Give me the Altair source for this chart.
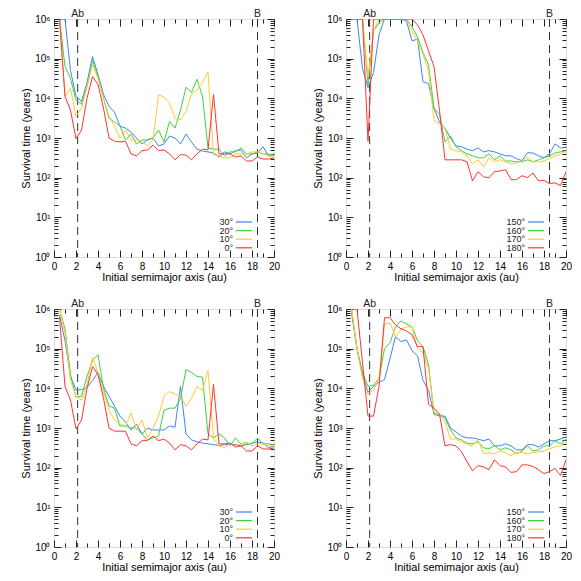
import math
import altair as alt
import pandas as pd

# Initial semimajor axis (au)
A_AU = [0.5, 1.0, 1.5, 2.0, 2.5, 3.0, 3.5, 4.0, 4.5, 5.0,
        5.5, 6.0, 6.5, 7.0, 7.5, 8.0, 8.5, 9.0, 9.5, 10.0,
        10.5, 11.0, 11.5, 12.0, 12.5, 13.0, 13.5, 14.0, 14.5, 15.0,
        15.5, 16.0, 16.5, 17.0, 17.5, 18.0, 18.5, 19.0, 19.5, 20.0]

# log10 survival time (years)
# top-left panel (prograde)
P1_30 = [6.0, 6.0, 4.7, 4.05, 3.92, 4.4, 5.05, 4.6, 4.1, 3.8,
         3.65, 3.3, 3.25, 3.15, 3.0, 2.85, 2.95, 3.0, 2.8, 2.85,
         3.05, 3.0, 2.85, 3.1, 2.9, 2.72, 2.67, 2.65, 2.62, 2.52,
         2.65, 2.6, 2.68, 2.7, 2.5, 2.6, 2.62, 2.78, 2.55, 2.6]
P1_20 = [6.0, 4.8, 4.5, 3.95, 3.85, 4.3, 4.95, 4.55, 4.0, 3.5,
         3.4, 3.3, 2.95, 3.1, 2.85, 2.95, 2.95, 3.0, 3.2, 2.9,
         3.42, 3.25, 3.7, 4.28, 4.15, 4.48, 4.05, 2.75, 2.72, 2.72,
         2.55, 2.65, 2.65, 2.75, 2.6, 2.6, 2.65, 2.6, 2.6, 2.55]
P1_10 = [6.0, 4.05, 4.25, 3.55, 3.75, 4.3, 4.85, 4.5, 4.0, 3.55,
         3.3, 3.0, 3.2, 2.95, 2.95, 2.92, 2.8, 2.95, 4.09, 4.03,
         3.88, 3.5, 3.46, 3.67, 4.11, 4.21, 4.4, 4.66, 2.58, 2.55,
         2.5, 2.5, 2.6, 2.6, 2.6, 2.65, 2.65, 2.6, 2.55, 2.5]
P1_0 = [6.0, 4.05, 3.7, 2.98, 3.2, 4.0, 4.55, 4.35, 3.75, 3.0,
        2.92, 2.9, 2.92, 2.6, 2.55, 2.68, 2.7, 2.82, 2.68, 2.7,
        2.6, 2.45, 2.58, 2.57, 2.45, 2.6, 2.72, 2.7, 4.1, 2.6,
        2.6, 2.6, 2.52, 2.55, 2.42, 2.42, 2.52, 2.47, 2.47, 2.5]

# top-right panel (retrograde)
P2_150 = [6.0, 6.0, 4.75, 4.27, 4.65, 5.6, 6.0, 6.0, 6.0, 6.0,
          5.95, 5.45, 5.49, 4.42, 4.37, 3.75, 3.4, 3.25, 3.0, 2.8,
          2.78, 2.72, 2.68, 2.75, 2.65, 2.68, 2.65, 2.6, 2.55, 2.55,
          2.48, 2.43, 2.63, 2.62, 2.55, 2.5, 2.6, 2.85, 2.75, 2.77]
P2_160 = [6.0, 6.0, 6.0, 4.35, 5.7, 5.9, 6.0, 6.0, 6.0, 6.0,
          6.0, 5.8, 5.55, 5.15, 4.85, 3.75, 3.6, 2.9, 3.05, 2.78,
          2.68, 2.6, 2.55, 2.5, 2.5, 2.6, 2.45, 2.55, 2.42, 2.42,
          2.4, 2.4, 2.45, 2.4, 2.45, 2.5, 2.55, 2.62, 2.65, 2.68]
P2_170 = [6.0, 6.0, 6.0, 4.55, 5.7, 6.0, 6.0, 6.0, 6.0, 6.0,
          6.0, 5.7, 5.45, 5.1, 4.7, 3.45, 3.35, 3.25, 2.72, 2.68,
          2.65, 2.55, 2.35, 2.45, 2.27, 2.5, 2.4, 2.45, 2.4, 2.35,
          2.37, 2.42, 2.52, 2.4, 2.4, 2.42, 2.48, 2.55, 2.6, 2.65]
P2_180 = [6.0, 6.0, 6.0, 2.92, 6.0, 6.0, 6.0, 6.0, 6.0, 6.0,
          6.0, 6.0, 5.85, 5.6, 5.2, 4.8, 3.7, 2.45, 2.45, 2.45,
          2.45, 2.4, 1.92, 2.15, 2.02, 2.0, 2.15, 2.17, 2.2, 1.95,
          1.95, 2.05, 2.0, 2.12, 1.92, 1.93, 1.85, 1.87, 1.8, 2.15]

# bottom-left panel (prograde)
P3_30 = [5.85, 5.2, 4.3, 3.95, 3.97, 4.02, 4.2, 4.4, 4.05, 3.8,
         3.55, 3.3, 3.15, 2.95, 3.1, 2.85, 3.0, 2.95, 2.95, 2.95,
         3.05, 3.02, 4.05, 2.85, 2.7, 2.65, 2.62, 2.6, 2.58, 2.56,
         2.58, 2.6, 2.58, 2.55, 2.58, 2.62, 2.65, 2.62, 2.5, 2.55]
P3_20 = [6.0, 5.5, 4.35, 3.78, 3.8, 4.3, 4.7, 4.85, 4.0, 3.55,
         3.5, 3.05, 3.05, 3.0, 3.0, 2.85, 2.7, 2.75, 2.8, 3.45,
         3.5, 3.5, 3.75, 4.47, 4.4, 4.3, 4.28, 2.85, 2.75, 2.85,
         2.75, 2.55, 2.75, 2.6, 2.6, 2.6, 2.75, 2.6, 2.6, 2.58]
P3_10 = [6.0, 5.4, 4.2, 3.8, 3.7, 4.1, 4.78, 4.4, 3.9, 3.45,
         3.2, 3.1, 3.05, 3.38, 2.95, 3.2, 2.75, 3.0, 3.3, 3.8,
         3.92, 3.85, 3.8, 3.55, 3.75, 4.05, 3.95, 4.45, 2.75, 2.55,
         2.5, 2.6, 2.55, 2.6, 2.65, 2.55, 2.6, 2.6, 2.55, 2.55]
P3_0 = [5.8, 4.05, 3.7, 2.98, 3.2, 4.0, 4.55, 4.35, 3.75, 3.0,
        2.92, 2.92, 2.92, 2.6, 2.55, 2.68, 2.68, 2.8, 2.68, 2.72,
        2.62, 2.45, 2.58, 2.55, 2.45, 2.6, 2.72, 2.7, 4.1, 2.6,
        2.6, 2.62, 2.52, 2.55, 2.42, 2.42, 2.55, 2.47, 2.47, 2.5]

# bottom-right panel (retrograde)
P4_150 = [5.9, 5.0, 4.35, 3.9, 4.05, 4.15, 4.22, 4.75, 5.3, 5.18,
          5.22, 4.95, 4.82, 4.2, 3.95, 3.35, 3.3, 3.3, 3.0, 2.9,
          2.8, 2.75, 2.75, 2.72, 2.68, 2.72, 2.55, 2.55, 2.6, 2.55,
          2.45, 2.45, 2.58, 2.58, 2.52, 2.6, 2.68, 2.68, 2.72, 2.78]
P4_160 = [6.0, 5.0, 4.4, 4.05, 4.08, 4.25, 5.0, 5.15, 5.55, 5.7,
          5.62, 5.55, 5.2, 5.05, 4.6, 3.35, 3.35, 3.25, 2.95, 2.75,
          2.7, 2.62, 2.6, 2.65, 2.5, 2.48, 2.55, 2.45, 2.5, 2.45,
          2.35, 2.42, 2.55, 2.42, 2.45, 2.55, 2.55, 2.68, 2.6, 2.72]
P4_170 = [6.0, 5.0, 4.25, 3.85, 3.95, 4.25, 5.62, 5.65, 5.3, 5.5,
          5.55, 5.55, 5.0, 4.9, 4.5, 3.4, 3.35, 3.15, 2.72, 2.72,
          2.65, 2.6, 2.55, 2.7, 2.35, 2.38, 2.35, 2.42, 2.38, 2.3,
          2.38, 2.38, 2.35, 2.38, 2.4, 2.42, 2.48, 2.52, 2.55, 2.65]
P4_180 = [6.0, 6.0, 4.65, 3.3, 3.3, 4.05, 5.78, 5.78, 5.6, 5.5,
          5.45, 5.35, 5.05, 5.05, 3.6, 3.5, 3.35, 2.55, 2.58, 2.55,
          2.4, 2.15, 1.92, 2.05, 2.02, 1.95, 2.2, 2.05, 2.02, 1.88,
          1.9, 2.07, 2.07, 2.03, 1.95, 1.85, 1.9, 1.98, 1.8, 2.2]

PRO_NAMES = ["30°", "20°", "10°", "0°"]
RETRO_NAMES = ["150°", "160°", "170°", "180°"]
COLORS = ["#3d86f2", "#3ed43e", "#ffc933", "#ff3333"]

RES_A = [2.15, 18.5]
RES_LAB = ["Ab", "B"]

X_MAJOR = [0, 2, 4, 6, 8, 10, 12, 14, 16, 18, 20]
X_MINOR = [1, 3, 5, 7, 9, 11, 13, 15, 17, 19]
Y_MAJOR = [0, 1, 2, 3, 4, 5, 6]
Y_MINOR = [k + math.log10(m) for k in range(6) for m in range(2, 10)]

XTITLE = "Initial semimajor axis (au)"
YTITLE = "Survival time (years)"

W, H = 220, 238
FONT = "Liberation Sans"
INK = "#222222"

XS = alt.Scale(domain=[0, 20], nice=False, zero=False)
YS = alt.Scale(domain=[0, 6], nice=False, zero=False)

SUP = "['\u2070','\u00b9','\u00b2','\u00b3','\u2074','\u2075','\u2076'][datum.value]"


def tick_layer(base, xorient, yorient, xvals, yvals, size):
    return base.mark_point(opacity=0, size=1).encode(
        x=alt.X("a:Q", scale=XS, axis=alt.Axis(
            orient=xorient, offset=-H, values=xvals, labels=False, domain=False,
            grid=False, ticks=True, tickSize=size, tickColor=INK, title=None)),
        y=alt.Y("lt:Q", scale=YS, axis=alt.Axis(
            orient=yorient, offset=-W, values=yvals, labels=False, domain=False,
            grid=False, ticks=True, tickSize=size, tickColor=INK, title=None)),
    )


def make_panel(series, names):
    rows = []
    for name, vals in zip(names, series):
        for a, v in zip(A_AU, vals):
            rows.append({"a": a, "lt": v, "inc": name})
    df = pd.DataFrame(rows)
    base = alt.Chart(df)

    res_df = pd.DataFrame({"a": RES_A, "lab": RES_LAB})
    res_lines = alt.Chart(res_df).mark_rule(
        strokeDash=[8, 5], strokeWidth=1, color="#333333"
    ).encode(x=alt.X("a:Q", scale=XS, axis=None))
    res_text = alt.Chart(res_df).mark_text(
        baseline="alphabetic", align="center", fontSize=10.5, font=FONT, color=INK
    ).encode(x=alt.X("a:Q", scale=XS, axis=None), y=alt.value(-2), text="lab:N")

    lines = base.mark_line(strokeWidth=1, clip=True).encode(
        x=alt.X("a:Q", scale=XS, axis=alt.Axis(
            orient="bottom", title=XTITLE, values=X_MAJOR, ticks=False, domain=False,
            grid=False, labelPadding=4, titlePadding=0, labelFlush=False,
            titleFontWeight="normal")),
        y=alt.Y("lt:Q", scale=YS, axis=alt.Axis(
            orient="left", title=YTITLE, values=Y_MAJOR, labelExpr="'10' + " + SUP,
            ticks=False, domain=False, grid=False, labelPadding=4, titlePadding=3,
            labelFlush=False, titleFontWeight="normal")),
        color=alt.Color("inc:N", scale=alt.Scale(domain=names, range=COLORS), legend=None),
    )

    layers = [res_lines, res_text, lines,
              tick_layer(base, "top", "right", X_MAJOR, Y_MAJOR, 7),
              tick_layer(base, "top", "right", X_MINOR, Y_MINOR, 4),
              tick_layer(base, "bottom", "left", X_MAJOR, Y_MAJOR, 7),
              tick_layer(base, "bottom", "left", X_MINOR, Y_MINOR, 4)]

    for i, (name, col) in enumerate(zip(names, COLORS)):
        yy = H - 35 + 8.6 * i
        ldf = pd.DataFrame({"t": [name]})
        layers.append(alt.Chart(ldf).mark_text(
            align="right", baseline="middle", fontSize=9, font=FONT, color=INK
        ).encode(x=alt.value(179), y=alt.value(yy), text="t:N"))
        layers.append(alt.Chart(ldf).mark_rule(color=col, strokeWidth=1.2).encode(
            x=alt.value(182), x2=alt.value(198), y=alt.value(yy)))

    return alt.layer(*layers).resolve_axis(x="independent", y="independent").properties(
        width=W, height=H)


p1 = make_panel([P1_30, P1_20, P1_10, P1_0], PRO_NAMES)
p2 = make_panel([P2_150, P2_160, P2_170, P2_180], RETRO_NAMES)
p3 = make_panel([P3_30, P3_20, P3_10, P3_0], PRO_NAMES)
p4 = make_panel([P4_150, P4_160, P4_170, P4_180], RETRO_NAMES)

chart = alt.vconcat(
    alt.hconcat(p1, p2, spacing=31),
    alt.hconcat(p3, p4, spacing=31),
    spacing=15,
).properties(
    padding={"left": 12, "top": 0, "right": 0, "bottom": 0}
).configure_view(
    stroke=INK, strokeWidth=1
).configure_axis(
    labelFont=FONT, titleFont=FONT, labelFontSize=10.5, titleFontSize=10.5,
    labelColor=INK, titleColor=INK, titleFontWeight="normal"
).configure(background="white")

chart.save("out.html", embed_options={"renderer": "svg", "actions": False})
